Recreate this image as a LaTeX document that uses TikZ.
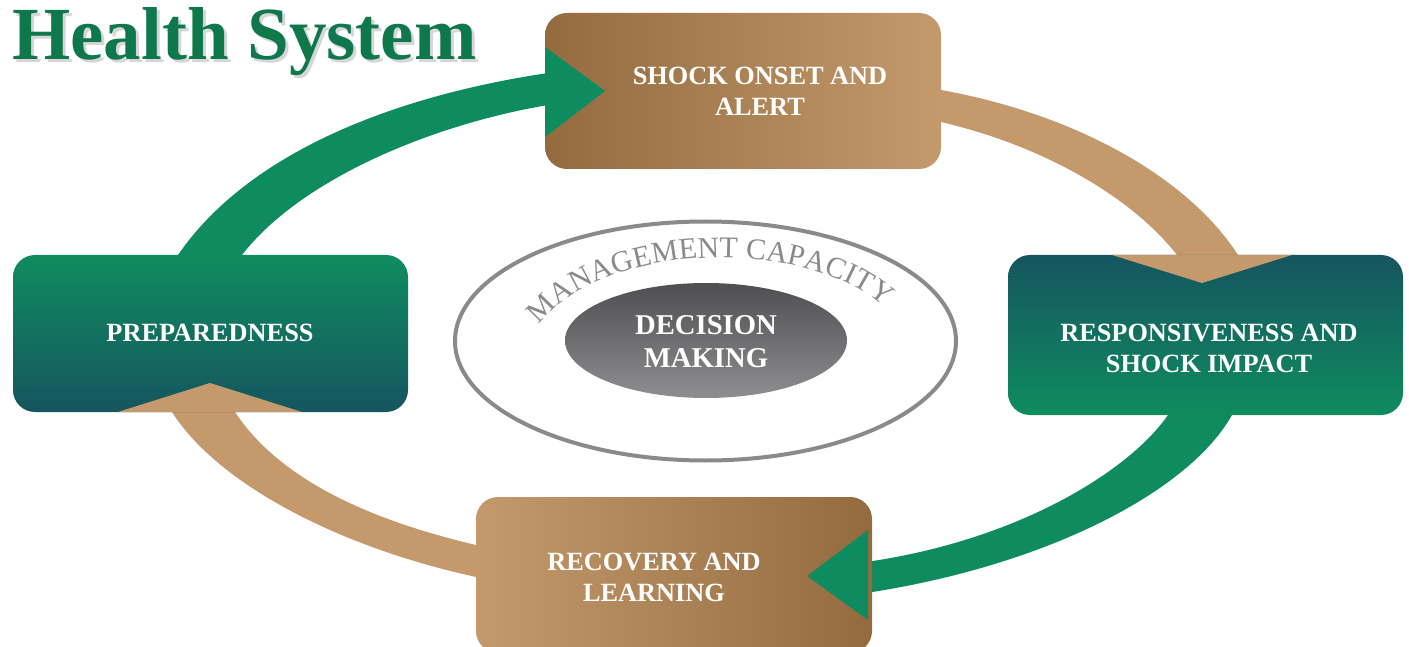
\documentclass[tikz,border=0pt]{standalone}
\usepackage{fontspec}
\setmainfont{Liberation Serif}
\usetikzlibrary{shapes.geometric,decorations.text}
\definecolor{grn}{HTML}{0F8C5F}
\definecolor{tanc}{HTML}{C49A6C}
\definecolor{brn}{HTML}{936B3E}
\definecolor{tealdk}{HTML}{15555F}
\definecolor{titlegrn}{HTML}{0E774C}
\definecolor{mgray}{HTML}{8A8A8A}
\definecolor{dgtop}{HTML}{4F4F51}
\definecolor{dgbot}{HTML}{8E8E90}
\begin{document}
\begin{tikzpicture}[x=1pt,y=-1pt,
  box/.style={rectangle, rounded corners=22pt, minimum width=396pt, minimum height=156pt, inner sep=0pt},
  lbl/.style={text=white, font=\fontsize{26.3}{31}\selectfont\bfseries, align=center, inner sep=0pt},
  gband/.style={fill=grn},
  tband/.style={fill=tanc},
]
\useasboundingbox (0,0) rectangle (1409,647);

% bands (behind boxes)
\fill[gband] (173,262) -- (178,255) .. controls (250,150) and (400,95) .. (548,73)
  -- (548,105) .. controls (430,125) and (300,180) .. (242,255) -- (247,262) -- cycle;
\fill[tband] (930,90) -- (941,90) .. controls (1080,115) and (1190,180) .. (1238,255)
  -- (1243,262) -- (1172,262) -- (1177,255) .. controls (1130,195) and (1040,145) .. (941,122)
  -- (930,122) -- cycle;
\fill[gband] (1236,408) -- (1232,415) .. controls (1190,490) and (1050,565) .. (866,593)
  -- (866,562) .. controls (1020,540) and (1130,470) .. (1168,415) -- (1172,408) -- cycle;
\fill[tband] (484,545) -- (476,545) .. controls (370,520) and (280,480) .. (235,412)
  -- (231,405) -- (168,405) -- (172,412) .. controls (215,480) and (330,545) .. (476,577)
  -- (484,577) -- cycle;

% boxes
\node[box, left color=brn, right color=tanc] (shock) at (743,91) {};
\node[box, minimum width=395pt, minimum height=160pt, top color=tealdk, bottom color=grn] (resp) at (1205.5,335) {};
\node[box, minimum width=395pt, minimum height=157pt, top color=grn, bottom color=tealdk] (prep) at (210.5,333.5) {};
\node[box, left color=tanc, right color=brn] (recov) at (674,575) {};

% arrowheads
\fill[gband] (545,47) -- (605,91) -- (545,137) -- cycle;
\fill[tband] (1112,255) -- (1202,283) -- (1292,255) -- cycle;
\fill[gband] (868,530) -- (807,576) -- (868,620) -- cycle;
\fill[tband] (118,412) -- (210,383) -- (302,412) -- cycle;

% center ellipses
\node[ellipse, draw=mgray, line width=4pt, fill=white, minimum width=501pt, minimum height=239pt, inner sep=0pt] (outer) at (705.5,341) {};
\node[ellipse, top color=dgtop, bottom color=dgbot, minimum width=282pt, minimum height=115pt, inner sep=0pt] (inner) at (706,340.5) {};

\path[decorate, decoration={text along path, text align=center,
  text={|\fontsize{30}{30}\selectfont\color{mgray}|MANAGEMENT CAPACITY}}]
  (537,328) .. controls (600,240) and (810,235) .. (887,310);

% labels
\node[lbl] (tshock) at (760,91.5) {SHOCK ONSET AND\\ALERT};
\node[lbl] (tresp) at (1209,348) {RESPONSIVENESS AND\\SHOCK IMPACT};
\node[lbl] (tprep) at (210,333) {PREPAREDNESS};
\node[lbl] (trecov) at (654,577) {RECOVERY AND\\LEARNING};
\node[lbl, font=\fontsize{28.7}{33}\selectfont\bfseries] (tdec) at (706,342) {DECISION\\MAKING};

% title
\node[anchor=base west, inner sep=0pt, text=black!40, opacity=.4, font=\fontsize{75}{75}\selectfont\bfseries] (tshadow) at (15,63) {Health System};
\node[anchor=base west, inner sep=0pt, text=titlegrn, font=\fontsize{75}{75}\selectfont\bfseries] (title) at (12,60) {Health System};
\end{tikzpicture}
\end{document}
